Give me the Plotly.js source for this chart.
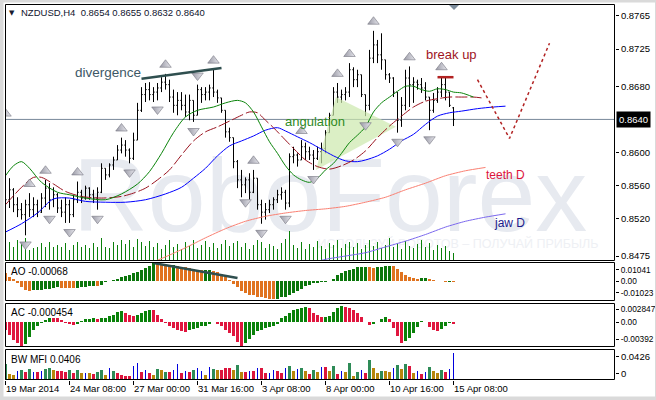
<!DOCTYPE html>
<html><head><meta charset="utf-8">
<script src="https://cdn.plot.ly/plotly-3.0.1.min.js"></script>
<style>html,body{margin:0;padding:0;background:#fff;}#chart{width:656px;height:400px;}</style>
</head><body><div id="chart"></div>
<script>
// ---------- DATA (NZDUSD H4) ----------
const xTickIdx = [0,16,32,48,64,80,96,112];
const xTickText = ['19 Mar 2014','24 Mar 08:00','27 Mar 00:00','31 Mar 16:00','3 Apr 08:00','8 Apr 00:00','10 Apr 16:00','15 Apr 08:00'];
const priceTicks = [0.8765,0.8725,0.8680,0.8600,0.8560,0.8520,0.8475];

const open = [0.8627,0.8543,0.8555,0.8537,0.8531,0.8525,0.8537,0.8531,0.8537,0.8528,
0.8545,0.8557,0.8543,0.8549,0.8533,0.8528,0.8537,0.8525,0.8543,0.8552,
0.8545,0.8557,0.8549,0.8545,0.8552,0.8581,0.8573,0.8585,0.8591,0.8603,
0.8609,0.8603,0.8593,0.8615,0.8651,0.8670,0.8676,0.8670,0.8673,0.8678,
0.8685,0.8682,0.8667,0.8657,0.8663,0.8657,0.8649,0.8663,0.8645,0.8676,
0.8670,0.8673,0.8678,0.8673,0.8666,0.8651,0.8625,0.8618,0.8589,0.8567,
0.8561,0.8567,0.8552,0.8569,0.8537,0.8528,0.8531,0.8537,0.8543,0.8549,
0.8552,0.8539,0.8595,0.8597,0.8591,0.8607,0.8601,0.8597,0.8593,0.8601,
0.8605,0.8624,0.8645,0.8673,0.8667,0.8670,0.8673,0.8700,0.8688,0.8694,
0.8670,0.8657,0.8714,0.8730,0.8718,0.8712,0.8694,0.8690,0.8673,0.8639,
0.8657,0.8690,0.8682,0.8685,0.8682,0.8678,0.8667,0.8651,0.8663,0.8673,
0.8682,0.8673,0.8654];
const high = [0.8636,0.8569,0.8557,0.8546,0.8539,0.8543,0.8551,0.8546,0.8543,0.8551,
0.8567,0.8563,0.8558,0.8551,0.8543,0.8546,0.8543,0.8549,0.8565,0.8555,
0.8560,0.8558,0.8555,0.8558,0.8587,0.8581,0.8587,0.8595,0.8609,0.8618,
0.8615,0.8605,0.8624,0.8660,0.8679,0.8684,0.8685,0.8679,0.8684,0.8691,
0.8695,0.8688,0.8676,0.8673,0.8673,0.8670,0.8670,0.8663,0.8682,0.8679,
0.8679,0.8682,0.8700,0.8676,0.8666,0.8651,0.8630,0.8618,0.8591,0.8579,
0.8570,0.8575,0.8579,0.8569,0.8543,0.8539,0.8543,0.8546,0.8555,0.8558,
0.8555,0.8599,0.8607,0.8599,0.8615,0.8612,0.8607,0.8603,0.8607,0.8612,
0.8627,0.8648,0.8679,0.8684,0.8676,0.8679,0.8708,0.8703,0.8700,0.8694,
0.8670,0.8724,0.8747,0.8736,0.8744,0.8712,0.8696,0.8691,0.8673,0.8667,
0.8700,0.8704,0.8691,0.8688,0.8690,0.8685,0.8667,0.8672,0.8679,0.8692,
0.8691,0.8673,0.8655];
const low = [0.8510,0.8533,0.8528,0.8522,0.8519,0.8500,0.8522,0.8522,0.8522,0.8527,
0.8534,0.8531,0.8534,0.8527,0.8522,0.8515,0.8515,0.8522,0.8539,0.8539,
0.8543,0.8543,0.8539,0.8531,0.8551,0.8567,0.8570,0.8579,0.8591,0.8599,
0.8595,0.8587,0.8591,0.8615,0.8649,0.8661,0.8663,0.8661,0.8663,0.8673,
0.8676,0.8661,0.8648,0.8645,0.8651,0.8643,0.8639,0.8637,0.8645,0.8660,
0.8663,0.8663,0.8667,0.8660,0.8648,0.8618,0.8613,0.8581,0.8557,0.8546,
0.8551,0.8543,0.8551,0.8531,0.8514,0.8519,0.8527,0.8531,0.8539,0.8543,
0.8531,0.8534,0.8587,0.8583,0.8591,0.8591,0.8591,0.8579,0.8591,0.8587,
0.8599,0.8624,0.8645,0.8660,0.8660,0.8663,0.8667,0.8679,0.8679,0.8667,
0.8644,0.8651,0.8708,0.8708,0.8700,0.8688,0.8684,0.8667,0.8624,0.8631,
0.8651,0.8655,0.8660,0.8676,0.8672,0.8663,0.8627,0.8648,0.8660,0.8667,
0.8663,0.8655,0.8632];
const close = [0.8543,0.8555,0.8537,0.8531,0.8525,0.8537,0.8531,0.8537,0.8528,0.8545,
0.8557,0.8543,0.8549,0.8533,0.8528,0.8537,0.8525,0.8543,0.8552,0.8545,
0.8557,0.8549,0.8545,0.8552,0.8581,0.8573,0.8585,0.8591,0.8603,0.8609,
0.8603,0.8593,0.8615,0.8651,0.8670,0.8676,0.8670,0.8673,0.8678,0.8685,
0.8682,0.8667,0.8657,0.8663,0.8657,0.8649,0.8663,0.8645,0.8676,0.8670,
0.8673,0.8678,0.8673,0.8666,0.8651,0.8625,0.8618,0.8589,0.8567,0.8561,
0.8567,0.8552,0.8569,0.8537,0.8528,0.8531,0.8537,0.8543,0.8549,0.8552,
0.8539,0.8595,0.8597,0.8591,0.8607,0.8601,0.8597,0.8593,0.8601,0.8605,
0.8624,0.8645,0.8673,0.8667,0.8670,0.8673,0.8700,0.8688,0.8694,0.8670,
0.8657,0.8714,0.8730,0.8718,0.8712,0.8694,0.8690,0.8673,0.8639,0.8657,
0.8690,0.8682,0.8685,0.8682,0.8678,0.8667,0.8651,0.8663,0.8673,0.8682,
0.8673,0.8657,0.8640];
const volume = [3100,1900,1400,2100,1800,2300,1100,1300,1400,1800,1400,1900,1400,1600,1400,1800,1100,1600,1900,1400,1600,1300,1800,1400,2300,1400,1300,1900,1600,2100,
1700,2100,1400,2200,1900,1500,2000,1400,1800,1200,1600,2100,1400,1700,1200,1900,1500,2100,1300,1600,2000,1400,1800,1300,1700,2100,1500,1800,2000,
1400,1800,1200,1600,2100,1900,1300,1700,1500,1200,1800,2200,3000,1600,1300,1900,1200,1700,1400,2000,1500,1200,1800,1600,2100,1300,1700,1900,
1400,1800,1200,1600,2100,1500,1900,1300,1600,2300,1400,1800,1200,2000,1500,1300,1700,2100,1400,1800,1100,1600,1300,1500,1000,800];

// Alligator (read at sampled bars)
const lipsIdx = [0,2,4,6,9,13,16,20,25,29,33,36,39,42,45,48,52,55,58,60,62,64,66,68,70,72,74,76,78,80,82,84,86,88,90,92,94,96,98,100,102,104,106,108,110,112,114,117];
const lips = [0.8572,0.8584,0.8589,0.8581,0.8564,0.8552,0.8549,0.8545,0.8543,0.8550,0.8562,0.8577,0.8599,0.8624,0.8643,0.8651,0.8655,0.8660,0.8663,0.8660,0.8649,0.8631,0.8613,0.8599,0.8584,0.8573,0.8567,0.8564,0.8569,0.8579,0.8587,0.8599,0.8612,0.8621,0.8631,0.8649,0.8660,0.8667,0.8674,0.8680,0.8680,0.8676,0.8674,0.8677,0.8676,0.8673,0.8672,0.8667];
const teethIdx = [0,4,7,9,12,15,19,24,29,32,35,38,41,44,47,50,53,56,59,61,63,65,67,69,72,75,78,81,84,87,90,93,96,99,102,105,108,111,114,117,119];
const teeth = [0.8537,0.8558,0.8570,0.8570,0.8562,0.8553,0.8547,0.8545,0.8547,0.8551,0.8557,0.8567,0.8579,0.8597,0.8614,0.8625,0.8631,0.8638,0.8645,0.8649,0.8648,0.8639,0.8630,0.8620,0.8605,0.8591,0.8583,0.8580,0.8584,0.8591,0.8602,0.8618,0.8632,0.8644,0.8655,0.8662,0.8665,0.8667,0.8667,0.8667,0.8666];
const jawIdx = [0,4,8,12,16,20,25,30,35,40,44,47,50,53,56,59,62,65,68,70,73,76,79,82,85,88,90,93,96,99,102,105,108,111,114,118,122,125];
const jaw = [0.8504,0.8514,0.8527,0.8544,0.8545,0.8541,0.8540,0.8540,0.8543,0.8550,0.8558,0.8569,0.8581,0.8596,0.8608,0.8614,0.8620,0.8627,0.8630,0.8626,0.8619,0.8612,0.8604,0.8596,0.8590,0.8589,0.8591,0.8596,0.8604,0.8614,0.8622,0.8634,0.8644,0.8648,0.8650,0.8653,0.8655,0.8656];
const teethDIdx = [35,40,45,50,55,60,65,70,75,80,85,90,95,100,105,110,115,120];
const teethD = [0.8464,0.8474,0.8485,0.8497,0.8508,0.8517,0.8523,0.8527,0.8530,0.8532,0.8535,0.8540,0.8546,0.8555,0.8563,0.8572,0.8578,0.8582];
const jawDIdx = [76,80,85,90,95,100,105,110,115,120,125];
const jawD = [0.8466,0.8471,0.8475,0.8479,0.8486,0.8493,0.8501,0.8510,0.8517,0.8522,0.8526];

// Fractals
const upFractalIdx = [0,6,10,18,29,40,52,62,74,83,86,92,101,109];
const downFractalIdx = [5,11,16,23,31,38,47,60,64,70,77,90,98,106];
const signalDownIdx = [48];

// Drawn objects
const divLineIdx = [34,54], divLinePrice = [0.8689,0.8702];
const breakLineIdx = [108,112], breakLinePrice = [0.8691,0.8691];
const forecastIdx = [118,126,136], forecastPrice = [0.8688,0.8617,0.8732];
const angIdx = [77.6,82.6,97.6], angPrice = [0.8579,0.8667,0.8631];
const aoDivIdx = [37,58], aoDivVal = [0.0164,0.0030];

// Awesome Oscillator
const ao = [0.0078,0.0042,0.0018,-0.0018,-0.0048,-0.0078,-0.0084,-0.0082,-0.0078,-0.0074,
-0.0070,-0.0066,-0.0060,-0.0054,-0.0056,-0.0058,-0.0060,-0.0062,-0.0058,-0.0054,
-0.0050,-0.0046,-0.0040,-0.0042,-0.0030,-0.0010,0.0006,0.0014,0.0024,0.0036,
0.0048,0.0060,0.0072,0.0080,0.0102,0.0117,0.0138,0.0162,0.0156,0.0150,
0.0146,0.0140,0.0142,0.0136,0.0130,0.0124,0.0118,0.0110,0.0104,0.0098,
0.0100,0.0102,0.0094,0.0080,0.0066,0.0042,0.0015,-0.0020,-0.0055,-0.0084,
-0.0108,-0.0120,-0.0126,-0.0138,-0.0144,-0.0150,-0.0156,-0.0162,-0.0156,-0.0144,
-0.0138,-0.0123,-0.0102,-0.0084,-0.0066,-0.0042,-0.0030,-0.0018,-0.0012,-0.0006,
-0.0002,0.0006,0.0024,0.0054,0.0072,0.0090,0.0102,0.0114,0.0126,0.0130,
0.0132,0.0124,0.0122,0.0124,0.0128,0.0134,0.0138,0.0137,0.0114,0.0084,
0.0057,0.0042,0.0030,0.0024,0.0027,0.0028,0.0018,0.0010,0.0006,0.0004,
-0.0008,-0.0004,-0.00068];
// Accelerator Oscillator
const ac = [-0.0018,-0.0030,-0.0040,-0.0047,-0.0054,-0.0050,-0.0034,-0.0018,-0.0008,-0.0002,
0.0004,0.0010,0.0009,0.0008,0.0004,-0.0002,-0.0005,-0.0007,-0.0004,0.0002,
0.0006,0.0007,0.0009,0.0007,0.0008,0.0010,0.0013,0.0016,0.0022,0.0024,
0.0020,0.0016,0.0014,0.0016,0.0020,0.0024,0.0028,0.0026,0.0016,0.0006,
-0.0003,-0.0009,-0.0014,-0.0018,-0.0021,-0.0022,-0.0019,-0.0016,-0.0013,-0.0010,
-0.0008,-0.0005,-0.0001,-0.0004,-0.0008,-0.0018,-0.0024,-0.0032,-0.0044,-0.0054,
-0.0048,-0.0038,-0.0029,-0.0021,-0.0017,-0.0014,-0.0012,-0.0009,-0.0005,0.0009,
0.0014,0.0021,0.0027,0.0030,0.0032,0.0034,0.0032,0.0021,0.0015,0.0011,
0.0012,0.0014,0.0023,0.0032,0.0036,0.0034,0.0032,0.0027,0.0020,0.0011,
-0.0001,-0.0006,-0.0005,-0.0001,0.0006,0.0011,0.0006,-0.0014,-0.0032,-0.0047,
-0.0042,-0.0035,-0.0024,-0.0011,0.0002,-0.0001,-0.0011,-0.0017,-0.0020,-0.0015,
-0.0008,-0.0003,-0.000454];
// BW Market Facilitation Index
const mfi = [0.0240,0.0090,0.0075,0.0135,0.0150,0.0125,0.0165,0.0120,0.0120,0.0135,
0.0165,0.0180,0.0150,0.0135,0.0140,0.0120,0.0150,0.0100,0.0150,0.0100,
0.0105,0.0110,0.0090,0.0120,0.0150,0.0075,0.0175,0.0140,0.0100,0.0075,
0.0060,0.0060,0.0210,0.0250,0.0125,0.0150,0.0100,0.0075,0.0160,0.0150,
0.0125,0.0125,0.0150,0.0240,0.0100,0.0135,0.0125,0.0150,0.0175,0.0135,
0.0075,0.0195,0.0160,0.0150,0.0150,0.0175,0.0175,0.0150,0.0225,0.0115,
0.0115,0.0135,0.0135,0.0175,0.0185,0.0100,0.0100,0.0150,0.0135,0.0100,
0.0175,0.0210,0.0135,0.0160,0.0180,0.0135,0.0090,0.0150,0.0120,0.0190,
0.0195,0.0135,0.0210,0.0090,0.0135,0.0120,0.0255,0.0060,0.0120,0.0150,
0.0100,0.0300,0.0180,0.0105,0.0135,0.0135,0.0120,0.0180,0.0225,0.0165,
0.0240,0.0210,0.0105,0.0135,0.0090,0.0120,0.0195,0.0135,0.0105,0.0150,
0.0120,0.0165,0.0406];
const mfiType = ['green','fade','fade','fake','green','squat','green','fake','squat','fake',
'green','green','fade','squat','squat','squat','green','squat','green','fade',
'fake','fade','squat','green','green','fade','fake','green','squat','squat',
'squat','squat','fake','fake','squat','fake','squat','fade','green','fade',
'green','squat','fake','fake','squat','fake','squat','green','fake','fake',
'fade','fake','green','fade','squat','squat','squat','fade','green','fade',
'squat','fake','squat','fake','squat','squat','fake','fake','squat','squat',
'fake','green','fade','fake','green','fade','squat','green','fade','fake',
'squat','fade','green','squat','fake','fade','green','fade','green','fake',
'squat','green','fade','fade','green','fade','fade','fake','green','fade',
'green','squat','fade','fake','squat','fake','green','fade','fade','green',
'squat','fake','fake'];

// ---------- DRAWING ----------
const FONT = 'Liberation Sans, Arial, sans-serif';
const N = close.length;
const barIdx = Array.from({length: N}, (_, i) => i);
const px = x => (x - 5) / 610;      // pixel -> paper x
const py = y => (380 - y) / 376;    // pixel -> paper y
const last = N - 1;

const aoColors = ao.map((v, i) => (i > 0 && v > ao[i-1]) ? '#0b760b' : '#e0731f');
const acColors = ac.map((v, i) => (i > 0 && v > ac[i-1]) ? '#0a820a' : '#e0163e');
const mfiColorMap = {green:'#2e8b57', fade:'#b8860b', fake:'#0000dd', squat:'#dc143c'};
const mfiColors = mfiType.map(t => mfiColorMap[t]);
const mfiWidths = mfiType.map(t => t === 'fake' ? 0.25 : 0.75);

const arrowMarker = (sym) => ({symbol: sym, size: 10, color: '#9a9aa6',
  line: {color: '#74747f', width: 0.6}, gradient: {type: 'horizontal', color: '#e6e6ec'}});

const traces = [
  {type:'bar', x: barIdx, y: volume, xaxis:'x', yaxis:'y', width: 0.25,
   marker:{color:'#0a800a', line:{width:0}}},
  {type:'scatter', mode:'lines', x: angIdx, y: angPrice, xaxis:'x', yaxis:'y5',
   fill:'toself', fillcolor:'rgba(204,232,172,0.7)', line:{width:0}},
  {type:'scatter', mode:'lines', x: teethDIdx, y: teethD, xaxis:'x', yaxis:'y5',
   line:{color:'#fa8072', width:1, shape:'spline', smoothing:0.6}},
  {type:'scatter', mode:'lines', x: jawDIdx, y: jawD, xaxis:'x', yaxis:'y5',
   line:{color:'#7b68ee', width:1, shape:'spline', smoothing:0.6}},
  {type:'scatter', mode:'lines', x: jawIdx, y: jaw, xaxis:'x', yaxis:'y5',
   line:{color:'#0000ff', width:1, shape:'spline', smoothing:0.8}},
  {type:'scatter', mode:'lines', x: teethIdx, y: teeth, xaxis:'x', yaxis:'y5',
   line:{color:'#9b1420', width:1, dash:'12px,3px', shape:'spline', smoothing:0.8}},
  {type:'scatter', mode:'lines', x: lipsIdx, y: lips, xaxis:'x', yaxis:'y5',
   line:{color:'#0a840a', width:1, shape:'spline', smoothing:0.8}},
  {type:'ohlc', x: barIdx, open: open, high: high, low: low, close: close,
   xaxis:'x', yaxis:'y5', tickwidth: 0.3,
   increasing:{line:{color:'#000', width:1}}, decreasing:{line:{color:'#000', width:1}}},
  {type:'scatter', mode:'markers', x: upFractalIdx, y: upFractalIdx.map(i => high[i] + 0.0011),
   xaxis:'x', yaxis:'y5', marker: arrowMarker('triangle-up')},
  {type:'scatter', mode:'markers', x: downFractalIdx, y: downFractalIdx.map(i => low[i] - 0.0011),
   xaxis:'x', yaxis:'y5', marker: arrowMarker('triangle-down')},
  {type:'scatter', mode:'markers', x: signalDownIdx, y: signalDownIdx.map(i => high[i] + 0.0011),
   xaxis:'x', yaxis:'y5', marker: arrowMarker('triangle-down')},
  {type:'scatter', mode:'lines', x: divLineIdx, y: divLinePrice, xaxis:'x', yaxis:'y5',
   line:{color:'#2f4f4f', width:2.5}},
  {type:'scatter', mode:'lines', x: breakLineIdx, y: breakLinePrice, xaxis:'x', yaxis:'y5',
   line:{color:'#b22222', width:2.5}},
  {type:'scatter', mode:'lines', x: forecastIdx, y: forecastPrice, xaxis:'x', yaxis:'y5',
   line:{color:'#b22222', width:1.5, dash:'dot'}},
  {type:'bar', x: barIdx, y: ao, xaxis:'x', yaxis:'y2', width: 0.75,
   marker:{color: aoColors, line:{width:0}}},
  {type:'scatter', mode:'lines', x: aoDivIdx, y: aoDivVal, xaxis:'x', yaxis:'y2',
   line:{color:'#2f4f4f', width:2.5}},
  {type:'bar', x: barIdx, y: ac, xaxis:'x', yaxis:'y3', width: 0.75,
   marker:{color: acColors, line:{width:0}}},
  {type:'bar', x: barIdx, y: mfi, xaxis:'x', yaxis:'y4', width: mfiWidths,
   marker:{color: mfiColors, line:{width:0}}}
];

const axisCommon = {side:'right', anchor:'x', ticks:'outside', ticklen:3, tickcolor:'#000',
  showgrid:false, zeroline:false, showline:false, fixedrange:true, ticklabelstandoff:0,
  tickfont:{family:FONT, size:9.5, color:'#000'}};
const subFont = {family:FONT, size:8.3, color:'#000'};

const layout = {
  width:656, height:400, margin:{l:5, r:41, t:4, b:20, pad:0},
  paper_bgcolor:'#ffffff', plot_bgcolor:'rgba(0,0,0,0)',
  showlegend:false, hovermode:false, dragmode:false, bargap:0,
  font:{family:FONT, size:9.5, color:'#000'},
  xaxis:{range:[-0.125, 152.375], anchor:'y4', tickvals:xTickIdx, ticktext:xTickText,
    tickangle:0, ticks:'outside', ticklen:4, tickcolor:'#000', tickwidth:1, showgrid:false, zeroline:false,
    showline:false, ticklabelposition:'outside right', rangeslider:{visible:false},
    fixedrange:true, tickfont:{family:FONT, size:9.5, color:'#000'}},
  yaxis:{domain:[py(261), 1], range:[0, 25700], visible:false, fixedrange:true},
  yaxis5:Object.assign({}, axisCommon, {overlaying:'y', range:[0.84690, 0.87794],
    tickvals:priceTicks, ticktext:priceTicks.map(v => v.toFixed(4))}),
  yaxis2:Object.assign({}, axisCommon, {domain:[py(301), py(262)], range:[-0.01767, 0.01731],
    tickvals:[0.01041, 0, -0.01023], ticktext:['0.01041','0.00','-0.01023'], tickfont:subFont}),
  yaxis3:Object.assign({}, axisCommon, {domain:[py(347), py(303)], range:[-0.00564, 0.004286],
    tickvals:[0.002847, 0, -0.00392], ticktext:['0.002847','0.00','-0.00392'], tickfont:subFont}),
  yaxis4:Object.assign({}, axisCommon, {domain:[0, py(349)], range:[0, 0.0466],
    tickvals:[0.0356, 0.0095], ticktext:['0.0426','0'], tickfont:{family:FONT, size:9.5, color:'#000'}}),
  shapes:[
    // watermark
    {type:'rect', layer:'below', xref:'paper', yref:'paper', x0:px(60), x1:px(600), y0:py(240), y1:py(130),
     line:{width:0}, fillcolor:'rgba(0,0,0,0)',
     label:{text:'RoboForex', textposition:'middle center',
       font:{family:FONT, size:104, color:'#e7eaf0'}}},
    {type:'rect', layer:'below', xref:'paper', yref:'paper', x0:px(310), x1:px(606), y0:py(250), y1:py(236),
     line:{width:0}, fillcolor:'rgba(0,0,0,0)',
     label:{text:'ИСПОЛЬЗУЙ РОБОТОВ – ПОЛУЧАЙ ПРИБЫЛЬ', textposition:'middle center',
       font:{family:FONT, size:12.5, color:'#eef0f4'}}},
    // current price line
    {type:'line', layer:'below', xref:'paper', yref:'y5', x0:0, x1:1, y0:close[last], y1:close[last],
     line:{color:'#778899', width:1}},
    // pane borders
    {type:'rect', xref:'paper', yref:'paper', x0:px(5.5), x1:px(614.5), y0:py(260.5), y1:py(4.5), line:{color:'#000', width:1}},
    {type:'rect', xref:'paper', yref:'paper', x0:px(5.5), x1:px(614.5), y0:py(300.5), y1:py(262.5), line:{color:'#000', width:1}},
    {type:'rect', xref:'paper', yref:'paper', x0:px(5.5), x1:px(614.5), y0:py(346.5), y1:py(303.5), line:{color:'#000', width:1}},
    {type:'rect', xref:'paper', yref:'paper', x0:px(5.5), x1:px(614.5), y0:py(379.5), y1:py(349.5), line:{color:'#000', width:1}},
    // chart shift marker
    {type:'path', xref:'paper', yref:'paper', path:`M ${px(449)},${py(5)} L ${px(459)},${py(5)} L ${px(454)},${py(10)} Z`,
     fillcolor:'#7c8c9c', line:{width:0}},
    // window frame
    {type:'rect', xref:'paper', yref:'paper', x0:px(0), x1:px(3.5), y0:py(400), y1:py(0), fillcolor:'#dadada', line:{width:0}},
    {type:'rect', xref:'paper', yref:'paper', x0:px(0), x1:px(656), y0:py(2.5), y1:py(0), fillcolor:'#dadada', line:{width:0}},
    {type:'rect', xref:'paper', yref:'paper', x0:px(655), x1:px(656), y0:py(400), y1:py(0), fillcolor:'#dadada', line:{width:0}},
    {type:'rect', xref:'paper', yref:'paper', x0:px(0), x1:px(656), y0:py(400), y1:py(396.5), fillcolor:'#dadada', line:{width:0}}
  ],
  annotations:[
    {xref:'paper', yref:'paper', x:px(12), y:py(12.5), text:'▼', showarrow:false, xanchor:'center', yanchor:'middle',
     font:{family:'DejaVu Sans', size:7, color:'#1a1a2e'}},
    {xref:'paper', yref:'paper', x:px(19), y:py(12.5), showarrow:false, xanchor:'left', yanchor:'middle',
     text:`NZDUSD,H4\u00a0\u00a0${open[last].toFixed(4)} ${high[last].toFixed(4)} ${low[last].toFixed(4)} ${close[last].toFixed(4)}`,
     font:{family:FONT, size:9.5, color:'#10142e'}},
    {xref:'paper', yref:'y5', x:1, y:close[last], xshift:1, xanchor:'left', yanchor:'middle', showarrow:false,
     text:close[last].toFixed(4), bgcolor:'#000', borderpad:2, font:{family:FONT, size:9.5, color:'#fff'}},
    {xref:'x', yref:'y5', x:25.6, y:0.8697, text:'divergence', showarrow:false, font:{family:FONT, size:13.5, color:'#3d5866'}},
    {xref:'x', yref:'y5', x:77.4, y:0.8638, text:'angulation', showarrow:false, font:{family:FONT, size:13, color:'#2f8a1f'}},
    {xref:'x', yref:'y5', x:111.6, y:0.8719, text:'break up', showarrow:false, font:{family:FONT, size:13, color:'#a0141e'}},
    {xref:'x', yref:'y5', x:125, y:0.8573, text:'teeth D', showarrow:false, font:{family:FONT, size:12, color:'#dc143c'}},
    {xref:'x', yref:'y5', x:126.1, y:0.8515, text:'jaw D', showarrow:false, font:{family:FONT, size:12, color:'#1a1a8c'}},
    {xref:'paper', yref:'paper', x:px(9), y:py(271.7), text:'AO ' + ao[last].toFixed(5), showarrow:false, xanchor:'left', yanchor:'middle',
     font:{family:FONT, size:10, color:'#000'}},
    {xref:'paper', yref:'paper', x:px(9), y:py(312.3), text:'AC ' + ac[last].toFixed(6), showarrow:false, xanchor:'left', yanchor:'middle',
     font:{family:FONT, size:10, color:'#000'}},
    {xref:'paper', yref:'paper', x:px(9), y:py(359), text:'BW MFI ' + mfi[last].toFixed(4), showarrow:false, xanchor:'left', yanchor:'middle',
     font:{family:FONT, size:10, color:'#000'}}
  ]
};

Plotly.newPlot('chart', traces, layout, {staticPlot:true, displayModeBar:false});
</script></body></html>
